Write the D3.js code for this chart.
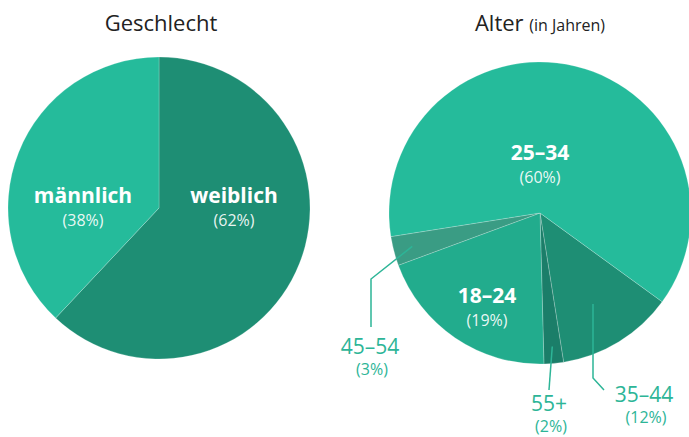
<!DOCTYPE html>
<html>
<head>
<meta charset="utf-8">
<script src="https://cdn.jsdelivr.net/npm/d3@7"></script>
<style>
  html, body { margin: 0; padding: 0; background: #fff; }
  svg { display: block; font-family: "Open Sans", Lato, sans-serif; }
</style>
</head>
<body>
<svg id="chart" width="689" height="437"></svg>
<script>
// data
const genderNames = ["weiblich", "männlich"];
const genderValues = [62, 38];

const ageNames = ["35–44", "55+", "18–24", "45–54", "25–34"];
const ageValues = [12, 2, 19, 3, 60];

// layout
const PIE_R = 151;
const LEFT = { cx: 159, cy: 208, start: 0 };
const RIGHT = { cx: 540, cy: 213, start: 126 * Math.PI / 180 };

const genderColor = d3.scaleOrdinal().domain(genderNames).range(["#1e8e74", "#25bb9b"]);
const ageColor = d3.scaleOrdinal().domain(ageNames)
    .range(["#1e8e74", "#1b7e69", "#22ac8d", "#3a9c84", "#25bb9b"]);

// label placement (offsets relative to pie centre)
const innerLabels = {
    "weiblich": [75, -5],
    "männlich": [-76, -5],
    "25–34": [0, -53],
    "18–24": [-53, 90]
};
// outer labels: leader line points and text position
const outerLabels = {
    "45–54": { r: 132, pts: [[-169, 66], [-169, 114]], text: [-170, 141] },
    "55+": { r: 134, pts: [[9, 177]], text: [9, 198] },
    "35–44": { r: 0, from: [53, 91], pts: [[53, 165], [64, 177]], text: [104, 189] }
};

const svg = d3.select("#chart");
const TEAL = "#2db597";

function drawPie(cfg, names, values, color) {
    const pie = d3.pie().sort(null).value(d => d.v)
        .startAngle(cfg.start).endAngle(cfg.start + 2 * Math.PI);
    const arcs = pie(names.map((n, i) => ({ name: n, v: values[i] })));
    const arc = d3.arc().innerRadius(0).outerRadius(PIE_R);

    const g = svg.append("g").attr("transform", `translate(${cfg.cx},${cfg.cy})`);
    g.selectAll("path.slice")
        .data(arcs)
        .join("path")
        .attr("class", "slice")
        .attr("d", arc)
        .attr("fill", d => color(d.data.name))
        .attr("stroke", "rgba(255,255,255,0.35)")
        .attr("stroke-width", 0.6);

    arcs.forEach(d => {
        const name = d.data.name;
        if (innerLabels[name]) {
            const [x, y] = innerLabels[name];
            g.append("text")
                .attr("x", x).attr("y", y)
                .attr("text-anchor", "middle")
                .attr("fill", "#fff")
                .attr("font-size", 21)
                .attr("font-weight", 700)
                .text(name);
            g.append("text")
                .attr("x", x).attr("y", y + 22.5)
                .attr("text-anchor", "middle")
                .attr("fill", "#fff")
                .attr("fill-opacity", 0.92)
                .attr("font-size", 16)
                .text(`(${d.data.v}%)`);
        } else if (outerLabels[name]) {
            const o = outerLabels[name];
            const start = o.from ? o.from
                : d3.arc().innerRadius(o.r).outerRadius(o.r).centroid(d);
            g.append("path")
                .attr("d", d3.line()([start, ...o.pts]))
                .attr("fill", "none")
                .attr("stroke", TEAL)
                .attr("stroke-width", 1.5);
            const [x, y] = o.text;
            g.append("text")
                .attr("x", x).attr("y", y)
                .attr("text-anchor", "middle")
                .attr("fill", TEAL)
                .attr("font-size", 21)
                .text(name);
            g.append("text")
                .attr("x", x + 2).attr("y", y + 21)
                .attr("text-anchor", "middle")
                .attr("fill", TEAL)
                .attr("font-size", 16)
                .text(`(${d.data.v}%)`);
        }
    });
}

drawPie(LEFT, genderNames, genderValues, genderColor);
drawPie(RIGHT, ageNames, ageValues, ageColor);

// titles
svg.append("text")
    .attr("x", 161).attr("y", 31)
    .attr("text-anchor", "middle")
    .attr("fill", "#222")
    .attr("font-size", 22)
    .text("Geschlecht");

const t2 = svg.append("text")
    .attr("x", 540).attr("y", 31)
    .attr("text-anchor", "middle")
    .attr("fill", "#222")
    .attr("font-size", 22);
t2.append("tspan").text("Alter ");
t2.append("tspan").attr("font-size", 16).text("(in Jahren)");
</script>
</body>
</html>
